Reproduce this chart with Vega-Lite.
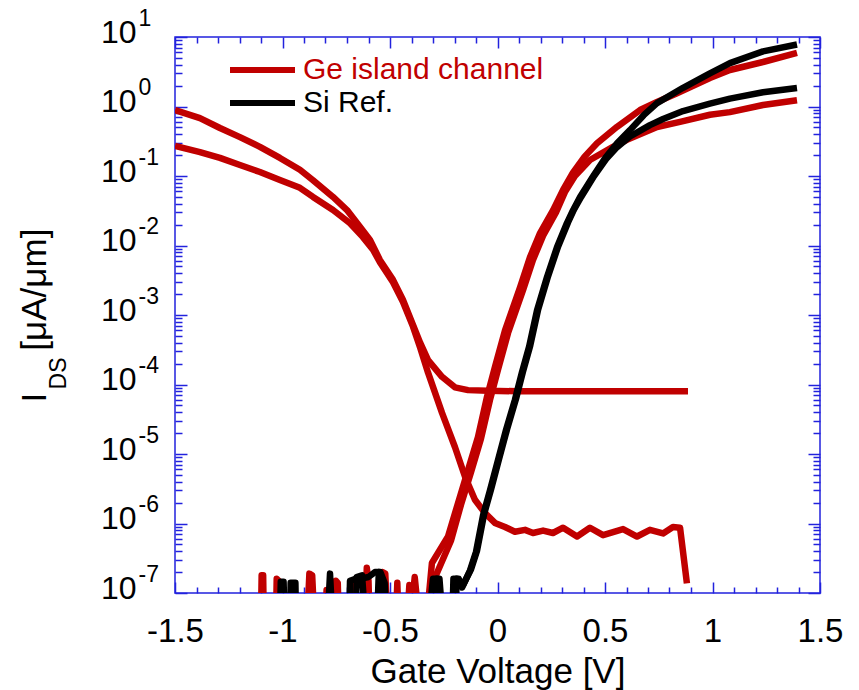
{
  "$schema": "https://vega.github.io/schema/vega-lite/v6.json",
  "width": 645,
  "height": 556,
  "autosize": {"type": "none"},
  "padding": {"left": 175, "top": 37, "right": 39, "bottom": 97},
  "background": "white",
  "config": {
    "font": "Liberation Sans",
    "view": {"stroke": "#2222dd", "strokeWidth": 1.5},
    "axis": {"domain": false, "grid": false, "tickColor": "#2222dd", "tickWidth": 1.5, "labelColor": "#000000", "labelFont": "Liberation Sans", "titleFont": "Liberation Sans", "titleFontWeight": "normal", "titleColor": "#000000", "labelOverlap": false, "labelFlush": false, "labelBound": false}
  },
  "data": {"values": [
    {"c":"Ge-p1","d":"Ge island channel","v":-1.5,"i":0.89},
    {"c":"Ge-p1","d":"Ge island channel","v":-1.384,"i":0.68},
    {"c":"Ge-p1","d":"Ge island channel","v":-1.291,"i":0.49},
    {"c":"Ge-p1","d":"Ge island channel","v":-1.198,"i":0.363},
    {"c":"Ge-p1","d":"Ge island channel","v":-1.105,"i":0.263},
    {"c":"Ge-p1","d":"Ge island channel","v":-1.012,"i":0.182},
    {"c":"Ge-p1","d":"Ge island channel","v":-0.919,"i":0.123},
    {"c":"Ge-p1","d":"Ge island channel","v":-0.858,"i":0.087},
    {"c":"Ge-p1","d":"Ge island channel","v":-0.765,"i":0.05},
    {"c":"Ge-p1","d":"Ge island channel","v":-0.7,"i":0.0324},
    {"c":"Ge-p1","d":"Ge island channel","v":-0.64,"i":0.0186},
    {"c":"Ge-p1","d":"Ge island channel","v":-0.593,"i":0.012},
    {"c":"Ge-p1","d":"Ge island channel","v":-0.547,"i":0.0062},
    {"c":"Ge-p1","d":"Ge island channel","v":-0.486,"i":0.0032},
    {"c":"Ge-p1","d":"Ge island channel","v":-0.44,"i":0.00166},
    {"c":"Ge-p1","d":"Ge island channel","v":-0.393,"i":0.00072},
    {"c":"Ge-p1","d":"Ge island channel","v":-0.36,"i":0.0004},
    {"c":"Ge-p1","d":"Ge island channel","v":-0.323,"i":0.000224},
    {"c":"Ge-p1","d":"Ge island channel","v":-0.258,"i":0.000129},
    {"c":"Ge-p1","d":"Ge island channel","v":-0.198,"i":0.000091},
    {"c":"Ge-p1","d":"Ge island channel","v":-0.137,"i":0.000083},
    {"c":"Ge-p1","d":"Ge island channel","v":-0.044,"i":0.000081},
    {"c":"Ge-p1","d":"Ge island channel","v":0.1,"i":0.00008},
    {"c":"Ge-p1","d":"Ge island channel","v":0.3,"i":0.00008},
    {"c":"Ge-p1","d":"Ge island channel","v":0.5,"i":0.00008},
    {"c":"Ge-p1","d":"Ge island channel","v":0.7,"i":0.00008},
    {"c":"Ge-p1","d":"Ge island channel","v":0.886,"i":0.00008},

    {"c":"Ge-p2","d":"Ge island channel","v":-1.5,"i":0.27},
    {"c":"Ge-p2","d":"Ge island channel","v":-1.384,"i":0.221},
    {"c":"Ge-p2","d":"Ge island channel","v":-1.291,"i":0.182},
    {"c":"Ge-p2","d":"Ge island channel","v":-1.198,"i":0.144},
    {"c":"Ge-p2","d":"Ge island channel","v":-1.105,"i":0.114},
    {"c":"Ge-p2","d":"Ge island channel","v":-1.012,"i":0.0875},
    {"c":"Ge-p2","d":"Ge island channel","v":-0.919,"i":0.0676},
    {"c":"Ge-p2","d":"Ge island channel","v":-0.858,"i":0.05},
    {"c":"Ge-p2","d":"Ge island channel","v":-0.765,"i":0.0324},
    {"c":"Ge-p2","d":"Ge island channel","v":-0.686,"i":0.0209},
    {"c":"Ge-p2","d":"Ge island channel","v":-0.626,"i":0.0132},
    {"c":"Ge-p2","d":"Ge island channel","v":-0.579,"i":0.0087},
    {"c":"Ge-p2","d":"Ge island channel","v":-0.547,"i":0.00575},
    {"c":"Ge-p2","d":"Ge island channel","v":-0.486,"i":0.00295},
    {"c":"Ge-p2","d":"Ge island channel","v":-0.44,"i":0.00155},
    {"c":"Ge-p2","d":"Ge island channel","v":-0.393,"i":0.00068},
    {"c":"Ge-p2","d":"Ge island channel","v":-0.36,"i":0.00034},
    {"c":"Ge-p2","d":"Ge island channel","v":-0.323,"i":0.000148},
    {"c":"Ge-p2","d":"Ge island channel","v":-0.258,"i":0.000039},
    {"c":"Ge-p2","d":"Ge island channel","v":-0.198,"i":0.0000126},
    {"c":"Ge-p2","d":"Ge island channel","v":-0.151,"i":0.0000047},
    {"c":"Ge-p2","d":"Ge island channel","v":-0.105,"i":0.00000219},
    {"c":"Ge-p2","d":"Ge island channel","v":-0.058,"i":0.00000141},
    {"c":"Ge-p2","d":"Ge island channel","v":-0.012,"i":0.00000102},
    {"c":"Ge-p2","d":"Ge island channel","v":0.035,"i":8.9e-7},
    {"c":"Ge-p2","d":"Ge island channel","v":0.081,"i":7.6e-7},
    {"c":"Ge-p2","d":"Ge island channel","v":0.128,"i":8.1e-7},
    {"c":"Ge-p2","d":"Ge island channel","v":0.165,"i":7.3e-7},
    {"c":"Ge-p2","d":"Ge island channel","v":0.212,"i":7.9e-7},
    {"c":"Ge-p2","d":"Ge island channel","v":0.258,"i":7.3e-7},
    {"c":"Ge-p2","d":"Ge island channel","v":0.305,"i":8.7e-7},
    {"c":"Ge-p2","d":"Ge island channel","v":0.37,"i":6.5e-7},
    {"c":"Ge-p2","d":"Ge island channel","v":0.43,"i":8.7e-7},
    {"c":"Ge-p2","d":"Ge island channel","v":0.491,"i":6.8e-7},
    {"c":"Ge-p2","d":"Ge island channel","v":0.584,"i":8.3e-7},
    {"c":"Ge-p2","d":"Ge island channel","v":0.649,"i":6.5e-7},
    {"c":"Ge-p2","d":"Ge island channel","v":0.709,"i":8.1e-7},
    {"c":"Ge-p2","d":"Ge island channel","v":0.77,"i":7.2e-7},
    {"c":"Ge-p2","d":"Ge island channel","v":0.816,"i":8.9e-7},
    {"c":"Ge-p2","d":"Ge island channel","v":0.849,"i":8.7e-7},
    {"c":"Ge-p2","d":"Ge island channel","v":0.881,"i":1.38e-7},

    {"c":"Ge-n1","d":"Ge island channel","v":-1.1,"i":4e-8},
    {"c":"Ge-n1","d":"Ge island channel","v":-1.097,"i":1.8e-7},
    {"c":"Ge-n1","d":"Ge island channel","v":-1.09,"i":1.8e-7},
    {"c":"Ge-n1","d":"Ge island channel","v":-1.087,"i":4e-8},
    {"c":"Ge-n1","d":"Ge island channel","v":-1.03,"i":4e-8},
    {"c":"Ge-n1","d":"Ge island channel","v":-1.027,"i":1.6e-7},
    {"c":"Ge-n1","d":"Ge island channel","v":-1.018,"i":1.5e-7},
    {"c":"Ge-n1","d":"Ge island channel","v":-1.012,"i":4e-8},
    {"c":"Ge-n1","d":"Ge island channel","v":-0.885,"i":4e-8},
    {"c":"Ge-n1","d":"Ge island channel","v":-0.875,"i":1.9e-7},
    {"c":"Ge-n1","d":"Ge island channel","v":-0.862,"i":1.8e-7},
    {"c":"Ge-n1","d":"Ge island channel","v":-0.852,"i":4e-8},
    {"c":"Ge-n1","d":"Ge island channel","v":-0.8,"i":4e-8},
    {"c":"Ge-n1","d":"Ge island channel","v":-0.795,"i":1.1e-7},
    {"c":"Ge-n1","d":"Ge island channel","v":-0.788,"i":4e-8},
    {"c":"Ge-n1","d":"Ge island channel","v":-0.757,"i":4e-8},
    {"c":"Ge-n1","d":"Ge island channel","v":-0.752,"i":1.5e-7},
    {"c":"Ge-n1","d":"Ge island channel","v":-0.743,"i":1.4e-7},
    {"c":"Ge-n1","d":"Ge island channel","v":-0.738,"i":4e-8},
    {"c":"Ge-n1","d":"Ge island channel","v":-0.683,"i":4e-8},
    {"c":"Ge-n1","d":"Ge island channel","v":-0.677,"i":1.3e-7},
    {"c":"Ge-n1","d":"Ge island channel","v":-0.67,"i":4e-8},
    {"c":"Ge-n1","d":"Ge island channel","v":-0.615,"i":4e-8},
    {"c":"Ge-n1","d":"Ge island channel","v":-0.608,"i":2.3e-7},
    {"c":"Ge-n1","d":"Ge island channel","v":-0.6,"i":1.5e-7},
    {"c":"Ge-n1","d":"Ge island channel","v":-0.595,"i":4e-8},
    {"c":"Ge-n1","d":"Ge island channel","v":-0.545,"i":4e-8},
    {"c":"Ge-n1","d":"Ge island channel","v":-0.535,"i":2e-7},
    {"c":"Ge-n1","d":"Ge island channel","v":-0.522,"i":1.9e-7},
    {"c":"Ge-n1","d":"Ge island channel","v":-0.512,"i":4e-8},
    {"c":"Ge-n1","d":"Ge island channel","v":-0.472,"i":4e-8},
    {"c":"Ge-n1","d":"Ge island channel","v":-0.466,"i":1.4e-7},
    {"c":"Ge-n1","d":"Ge island channel","v":-0.46,"i":4e-8},
    {"c":"Ge-n1","d":"Ge island channel","v":-0.405,"i":4e-8},
    {"c":"Ge-n1","d":"Ge island channel","v":-0.385,"i":1.7e-7},
    {"c":"Ge-n1","d":"Ge island channel","v":-0.365,"i":4e-8},
    {"c":"Ge-n1","d":"Ge island channel","v":-0.33,"i":4e-8},
    {"c":"Ge-n1","d":"Ge island channel","v":-0.305,"i":2.7e-7},
    {"c":"Ge-n1","d":"Ge island channel","v":-0.23,"i":6.5e-7},
    {"c":"Ge-n1","d":"Ge island channel","v":-0.184,"i":1.95e-6},
    {"c":"Ge-n1","d":"Ge island channel","v":-0.137,"i":5.9e-6},
    {"c":"Ge-n1","d":"Ge island channel","v":-0.091,"i":1.74e-5},
    {"c":"Ge-n1","d":"Ge island channel","v":-0.049,"i":6.6e-5},
    {"c":"Ge-n1","d":"Ge island channel","v":-0.012,"i":1.78e-4},
    {"c":"Ge-n1","d":"Ge island channel","v":0.035,"i":6e-4},
    {"c":"Ge-n1","d":"Ge island channel","v":0.105,"i":0.0025},
    {"c":"Ge-n1","d":"Ge island channel","v":0.151,"i":0.0068},
    {"c":"Ge-n1","d":"Ge island channel","v":0.198,"i":0.0151},
    {"c":"Ge-n1","d":"Ge island channel","v":0.258,"i":0.032},
    {"c":"Ge-n1","d":"Ge island channel","v":0.305,"i":0.063},
    {"c":"Ge-n1","d":"Ge island channel","v":0.351,"i":0.112},
    {"c":"Ge-n1","d":"Ge island channel","v":0.405,"i":0.19},
    {"c":"Ge-n1","d":"Ge island channel","v":0.463,"i":0.295},
    {"c":"Ge-n1","d":"Ge island channel","v":0.556,"i":0.51},
    {"c":"Ge-n1","d":"Ge island channel","v":0.663,"i":0.89},
    {"c":"Ge-n1","d":"Ge island channel","v":0.742,"i":1.16},
    {"c":"Ge-n1","d":"Ge island channel","v":0.835,"i":1.55},
    {"c":"Ge-n1","d":"Ge island channel","v":0.988,"i":2.57},
    {"c":"Ge-n1","d":"Ge island channel","v":1.081,"i":3.35},
    {"c":"Ge-n1","d":"Ge island channel","v":1.235,"i":4.37},
    {"c":"Ge-n1","d":"Ge island channel","v":1.393,"i":5.9},

    {"c":"Ge-n2","d":"Ge island channel","v":-0.42,"i":4e-8},
    {"c":"Ge-n2","d":"Ge island channel","v":-0.41,"i":1.3e-7},
    {"c":"Ge-n2","d":"Ge island channel","v":-0.395,"i":1.2e-7},
    {"c":"Ge-n2","d":"Ge island channel","v":-0.385,"i":4e-8},
    {"c":"Ge-n2","d":"Ge island channel","v":-0.33,"i":4e-8},
    {"c":"Ge-n2","d":"Ge island channel","v":-0.3,"i":1.6e-7},
    {"c":"Ge-n2","d":"Ge island channel","v":-0.286,"i":1.8e-7},
    {"c":"Ge-n2","d":"Ge island channel","v":-0.216,"i":5.7e-7},
    {"c":"Ge-n2","d":"Ge island channel","v":-0.17,"i":1.86e-6},
    {"c":"Ge-n2","d":"Ge island channel","v":-0.123,"i":5.5e-6},
    {"c":"Ge-n2","d":"Ge island channel","v":-0.077,"i":1.66e-5},
    {"c":"Ge-n2","d":"Ge island channel","v":-0.035,"i":6e-5},
    {"c":"Ge-n2","d":"Ge island channel","v":0.002,"i":1.62e-4},
    {"c":"Ge-n2","d":"Ge island channel","v":0.049,"i":5.5e-4},
    {"c":"Ge-n2","d":"Ge island channel","v":0.119,"i":0.0023},
    {"c":"Ge-n2","d":"Ge island channel","v":0.165,"i":0.0062},
    {"c":"Ge-n2","d":"Ge island channel","v":0.212,"i":0.0138},
    {"c":"Ge-n2","d":"Ge island channel","v":0.272,"i":0.03},
    {"c":"Ge-n2","d":"Ge island channel","v":0.315,"i":0.06},
    {"c":"Ge-n2","d":"Ge island channel","v":0.36,"i":0.1},
    {"c":"Ge-n2","d":"Ge island channel","v":0.43,"i":0.17},
    {"c":"Ge-n2","d":"Ge island channel","v":0.537,"i":0.263},
    {"c":"Ge-n2","d":"Ge island channel","v":0.602,"i":0.331},
    {"c":"Ge-n2","d":"Ge island channel","v":0.742,"i":0.507},
    {"c":"Ge-n2","d":"Ge island channel","v":0.849,"i":0.6},
    {"c":"Ge-n2","d":"Ge island channel","v":0.988,"i":0.76},
    {"c":"Ge-n2","d":"Ge island channel","v":1.081,"i":0.83},
    {"c":"Ge-n2","d":"Ge island channel","v":1.235,"i":1.05},
    {"c":"Ge-n2","d":"Ge island channel","v":1.393,"i":1.23},

    {"c":"Si-1","d":"Si Ref.","v":-1.012,"i":4e-8},
    {"c":"Si-1","d":"Si Ref.","v":-1.008,"i":1.45e-7},
    {"c":"Si-1","d":"Si Ref.","v":-0.995,"i":1.45e-7},
    {"c":"Si-1","d":"Si Ref.","v":-0.99,"i":4e-8},
    {"c":"Si-1","d":"Si Ref.","v":-0.965,"i":4e-8},
    {"c":"Si-1","d":"Si Ref.","v":-0.962,"i":1.4e-7},
    {"c":"Si-1","d":"Si Ref.","v":-0.94,"i":1.4e-7},
    {"c":"Si-1","d":"Si Ref.","v":-0.937,"i":4e-8},
    {"c":"Si-1","d":"Si Ref.","v":-0.79,"i":4e-8},
    {"c":"Si-1","d":"Si Ref.","v":-0.779,"i":1.9e-7},
    {"c":"Si-1","d":"Si Ref.","v":-0.768,"i":4e-8},
    {"c":"Si-1","d":"Si Ref.","v":-0.69,"i":4e-8},
    {"c":"Si-1","d":"Si Ref.","v":-0.686,"i":1.5e-7},
    {"c":"Si-1","d":"Si Ref.","v":-0.66,"i":1.6e-7},
    {"c":"Si-1","d":"Si Ref.","v":-0.64,"i":1.6e-7},
    {"c":"Si-1","d":"Si Ref.","v":-0.6,"i":1.7e-7},
    {"c":"Si-1","d":"Si Ref.","v":-0.57,"i":2e-7},
    {"c":"Si-1","d":"Si Ref.","v":-0.545,"i":2e-7},
    {"c":"Si-1","d":"Si Ref.","v":-0.525,"i":1.4e-7},
    {"c":"Si-1","d":"Si Ref.","v":-0.515,"i":4e-8},
    {"c":"Si-1","d":"Si Ref.","v":-0.32,"i":4e-8},
    {"c":"Si-1","d":"Si Ref.","v":-0.3,"i":1.6e-7},
    {"c":"Si-1","d":"Si Ref.","v":-0.27,"i":1.6e-7},
    {"c":"Si-1","d":"Si Ref.","v":-0.255,"i":4e-8},
    {"c":"Si-1","d":"Si Ref.","v":-0.21,"i":4e-8},
    {"c":"Si-1","d":"Si Ref.","v":-0.205,"i":1.6e-7},
    {"c":"Si-1","d":"Si Ref.","v":-0.18,"i":1.6e-7},
    {"c":"Si-1","d":"Si Ref.","v":-0.165,"i":1.2e-7},
    {"c":"Si-1","d":"Si Ref.","v":-0.128,"i":2.1e-7},
    {"c":"Si-1","d":"Si Ref.","v":-0.1,"i":3.9e-7},
    {"c":"Si-1","d":"Si Ref.","v":-0.067,"i":1.32e-6},
    {"c":"Si-1","d":"Si Ref.","v":-0.035,"i":3e-6},
    {"c":"Si-1","d":"Si Ref.","v":0.002,"i":8.1e-6},
    {"c":"Si-1","d":"Si Ref.","v":0.04,"i":2.24e-5},
    {"c":"Si-1","d":"Si Ref.","v":0.081,"i":6e-5},
    {"c":"Si-1","d":"Si Ref.","v":0.114,"i":1.51e-4},
    {"c":"Si-1","d":"Si Ref.","v":0.147,"i":3.5e-4},
    {"c":"Si-1","d":"Si Ref.","v":0.184,"i":0.00117},
    {"c":"Si-1","d":"Si Ref.","v":0.23,"i":0.0035},
    {"c":"Si-1","d":"Si Ref.","v":0.277,"i":0.0095},
    {"c":"Si-1","d":"Si Ref.","v":0.323,"i":0.021},
    {"c":"Si-1","d":"Si Ref.","v":0.351,"i":0.032},
    {"c":"Si-1","d":"Si Ref.","v":0.384,"i":0.05},
    {"c":"Si-1","d":"Si Ref.","v":0.444,"i":0.098},
    {"c":"Si-1","d":"Si Ref.","v":0.5,"i":0.18},
    {"c":"Si-1","d":"Si Ref.","v":0.556,"i":0.295},
    {"c":"Si-1","d":"Si Ref.","v":0.616,"i":0.457},
    {"c":"Si-1","d":"Si Ref.","v":0.68,"i":0.75},
    {"c":"Si-1","d":"Si Ref.","v":0.742,"i":1.12},
    {"c":"Si-1","d":"Si Ref.","v":0.863,"i":1.86},
    {"c":"Si-1","d":"Si Ref.","v":0.988,"i":3.0},
    {"c":"Si-1","d":"Si Ref.","v":1.081,"i":4.2},
    {"c":"Si-1","d":"Si Ref.","v":1.235,"i":6.2},
    {"c":"Si-1","d":"Si Ref.","v":1.393,"i":7.8},

    {"c":"Si-2","d":"Si Ref.","v":-0.66,"i":4e-8},
    {"c":"Si-2","d":"Si Ref.","v":-0.655,"i":1.7e-7},
    {"c":"Si-2","d":"Si Ref.","v":-0.63,"i":1.8e-7},
    {"c":"Si-2","d":"Si Ref.","v":-0.615,"i":4e-8},
    {"c":"Si-2","d":"Si Ref.","v":-0.56,"i":4e-8},
    {"c":"Si-2","d":"Si Ref.","v":-0.552,"i":2e-7},
    {"c":"Si-2","d":"Si Ref.","v":-0.54,"i":4e-8},
    {"c":"Si-2","d":"Si Ref.","v":-0.29,"i":4e-8},
    {"c":"Si-2","d":"Si Ref.","v":-0.282,"i":1.6e-7},
    {"c":"Si-2","d":"Si Ref.","v":-0.262,"i":4e-8},
    {"c":"Si-2","d":"Si Ref.","v":-0.195,"i":4e-8},
    {"c":"Si-2","d":"Si Ref.","v":-0.19,"i":1.6e-7},
    {"c":"Si-2","d":"Si Ref.","v":-0.16,"i":1.3e-7},
    {"c":"Si-2","d":"Si Ref.","v":-0.123,"i":2.2e-7},
    {"c":"Si-2","d":"Si Ref.","v":-0.095,"i":4.1e-7},
    {"c":"Si-2","d":"Si Ref.","v":-0.062,"i":1.38e-6},
    {"c":"Si-2","d":"Si Ref.","v":-0.03,"i":3.1e-6},
    {"c":"Si-2","d":"Si Ref.","v":0.007,"i":8.4e-6},
    {"c":"Si-2","d":"Si Ref.","v":0.045,"i":2.3e-5},
    {"c":"Si-2","d":"Si Ref.","v":0.086,"i":6.2e-5},
    {"c":"Si-2","d":"Si Ref.","v":0.119,"i":1.55e-4},
    {"c":"Si-2","d":"Si Ref.","v":0.152,"i":3.6e-4},
    {"c":"Si-2","d":"Si Ref.","v":0.189,"i":0.0012},
    {"c":"Si-2","d":"Si Ref.","v":0.235,"i":0.0036},
    {"c":"Si-2","d":"Si Ref.","v":0.282,"i":0.0097},
    {"c":"Si-2","d":"Si Ref.","v":0.328,"i":0.0215},
    {"c":"Si-2","d":"Si Ref.","v":0.356,"i":0.033},
    {"c":"Si-2","d":"Si Ref.","v":0.389,"i":0.05},
    {"c":"Si-2","d":"Si Ref.","v":0.449,"i":0.1},
    {"c":"Si-2","d":"Si Ref.","v":0.505,"i":0.175},
    {"c":"Si-2","d":"Si Ref.","v":0.556,"i":0.26},
    {"c":"Si-2","d":"Si Ref.","v":0.616,"i":0.37},
    {"c":"Si-2","d":"Si Ref.","v":0.709,"i":0.54},
    {"c":"Si-2","d":"Si Ref.","v":0.77,"i":0.66},
    {"c":"Si-2","d":"Si Ref.","v":0.863,"i":0.86},
    {"c":"Si-2","d":"Si Ref.","v":0.988,"i":1.1},
    {"c":"Si-2","d":"Si Ref.","v":1.081,"i":1.3},
    {"c":"Si-2","d":"Si Ref.","v":1.235,"i":1.6},
    {"c":"Si-2","d":"Si Ref.","v":1.393,"i":1.85}
  ]},
  "layer": [
    {
      "mark": {"type": "line", "strokeWidth": 6.5, "clip": true, "strokeJoin": "round"},
      "encoding": {
        "x": {"field": "v", "type": "quantitative",
          "scale": {"domain": [-1.5, 1.5], "nice": false, "zero": false},
          "axis": {"orient": "bottom",
            "values": [-1.5,-1.4,-1.3,-1.2,-1.1,-1,-0.9,-0.8,-0.7,-0.6,-0.5,-0.4,-0.3,-0.2,-0.1,0,0.1,0.2,0.3,0.4,0.5,0.6,0.7,0.8,0.9,1,1.1,1.2,1.3,1.4,1.5],
            "tickSize": {"condition": {"test": "abs(datum.value*2 - round(datum.value*2)) < 0.01", "value": -11}, "value": -6},
            "labelExpr": "abs(datum.value*2 - round(datum.value*2)) < 0.01 ? '' + datum.value : ''",
            "labelFontSize": 33, "labelPadding": 33,
            "title": "Gate Voltage [V]", "titleFontSize": 35, "titleBaseline": "alphabetic", "titleY": 89}},
        "y": {"field": "i", "type": "quantitative",
          "scale": {"type": "log", "domain": [1e-7, 10], "nice": false},
          "axis": {"orient": "left",
            "values": [1e-7,2e-7,3e-7,4e-7,5e-7,6e-7,7e-7,8e-7,9e-7,1e-6,2e-6,3e-6,4e-6,5e-6,6e-6,7e-6,8e-6,9e-6,1e-5,2e-5,3e-5,4e-5,5e-5,6e-5,7e-5,8e-5,9e-5,1e-4,2e-4,3e-4,4e-4,5e-4,6e-4,7e-4,8e-4,9e-4,0.001,0.002,0.003,0.004,0.005,0.006,0.007,0.008,0.009,0.01,0.02,0.03,0.04,0.05,0.06,0.07,0.08,0.09,0.1,0.2,0.3,0.4,0.5,0.6,0.7,0.8,0.9,1,2,3,4,5,6,7,8,9,10],
            "tickSize": {"condition": {"test": "abs(log(datum.value)/LN10 - round(log(datum.value)/LN10)) < 0.01", "value": -12}, "value": -7},
            "labelExpr": "abs(log(datum.value)/LN10 - round(log(datum.value)/LN10)) < 0.01 ? '10' : ''",
            "labelFontSize": 32, "labelPadding": 51, "labelAlign": "right", "labelBaseline": "middle", "labelOffset": -5,
            "title": "I\u2003\u2009[μA/μm]", "titleFontSize": 35, "titleX": -123, "titleY": 278}},
        "color": {"field": "d", "type": "nominal",
          "scale": {"domain": ["Ge island channel", "Si Ref."], "range": ["#c00000", "#000000"]},
          "legend": {"title": null, "orient": "none", "legendX": 52, "legendY": 18, "symbolType": "stroke", "symbolSize": 4225, "symbolStrokeWidth": 6, "clipHeight": 30, "labelFontSize": 30, "labelFont": "Liberation Sans", "labelOffset": 5, "rowPadding": 3, "padding": 0, "labelLimit": 0,
            "labelColor": {"expr": "datum.label == 'Si Ref.' ? '#000000' : '#c00000'"}}},
        "detail": {"field": "c"}
      }
    },
    {
      "mark": {"type": "line", "opacity": 0},
      "encoding": {
        "x": {"field": "v", "type": "quantitative",
          "scale": {"domain": [-1.5, 1.5], "nice": false, "zero": false},
          "axis": {"orient": "top", "labels": false, "title": null,
            "values": [-1.5,-1.4,-1.3,-1.2,-1.1,-1,-0.9,-0.8,-0.7,-0.6,-0.5,-0.4,-0.3,-0.2,-0.1,0,0.1,0.2,0.3,0.4,0.5,0.6,0.7,0.8,0.9,1,1.1,1.2,1.3,1.4,1.5],
            "tickSize": {"condition": {"test": "abs(datum.value*2 - round(datum.value*2)) < 0.01", "value": -11}, "value": -6}}},
        "y": {"field": "i", "type": "quantitative",
          "scale": {"type": "log", "domain": [1e-7, 10], "nice": false},
          "axis": {"orient": "left", "ticks": false, "tickSize": 0,
            "values": [1e-7,1e-6,1e-5,1e-4,0.001,0.01,0.1,1,10],
            "labelExpr": "'' + round(log(datum.value)/LN10)",
            "labelFontSize": 23, "labelPadding": 37, "labelAlign": "left", "labelBaseline": "middle", "labelOffset": -19,
            "title": "DS", "titleFontSize": 23, "titleX": -105, "titleY": 336}},
        "detail": {"field": "c"}
      }
    },
    {
      "mark": {"type": "line", "opacity": 0},
      "encoding": {
        "x": {"field": "v", "type": "quantitative",
          "scale": {"domain": [-1.5, 1.5], "nice": false, "zero": false}, "axis": null},
        "y": {"field": "i", "type": "quantitative",
          "scale": {"type": "log", "domain": [1e-7, 10], "nice": false},
          "axis": {"orient": "right", "labels": false, "title": null,
            "values": [1e-7,2e-7,3e-7,4e-7,5e-7,6e-7,7e-7,8e-7,9e-7,1e-6,2e-6,3e-6,4e-6,5e-6,6e-6,7e-6,8e-6,9e-6,1e-5,2e-5,3e-5,4e-5,5e-5,6e-5,7e-5,8e-5,9e-5,1e-4,2e-4,3e-4,4e-4,5e-4,6e-4,7e-4,8e-4,9e-4,0.001,0.002,0.003,0.004,0.005,0.006,0.007,0.008,0.009,0.01,0.02,0.03,0.04,0.05,0.06,0.07,0.08,0.09,0.1,0.2,0.3,0.4,0.5,0.6,0.7,0.8,0.9,1,2,3,4,5,6,7,8,9,10],
            "tickSize": {"condition": {"test": "abs(log(datum.value)/LN10 - round(log(datum.value)/LN10)) < 0.01", "value": -12}, "value": -7}}},
        "detail": {"field": "c"}
      }
    }
  ],
  "resolve": {"axis": {"x": "independent", "y": "independent"}}
}
